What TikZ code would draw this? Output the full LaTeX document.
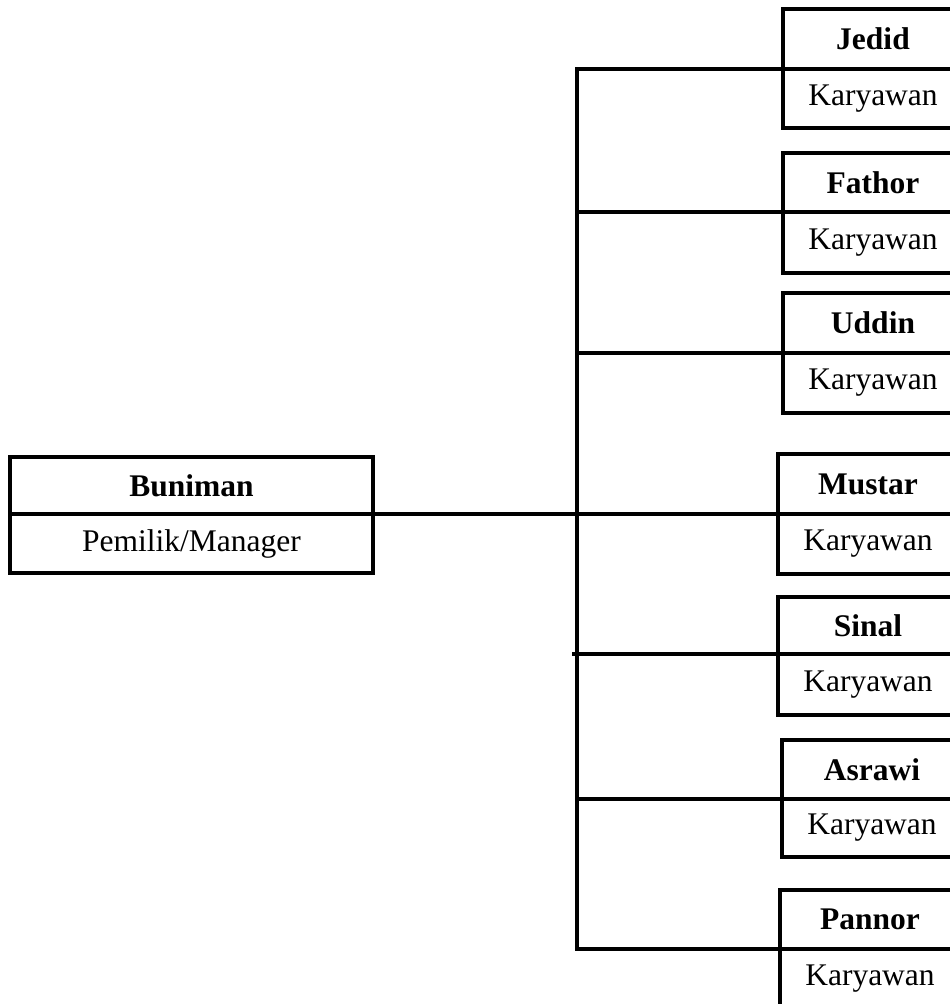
\documentclass[tikz,border=0pt]{standalone}
\usepackage{fontspec}
\setmainfont{Liberation Serif}
\tikzset{
  cell/.style={draw, line width=3.6pt, minimum width=180pt, inner sep=0pt, outer sep=0pt, anchor=north west,
    font=\fontsize{31.5}{36}\selectfont},
  namecell/.style={cell, font=\fontsize{31.5}{36}\selectfont\bfseries},
  link/.style={line width=3.4pt}
}
\begin{document}
\begin{tikzpicture}[x=1pt,y=-1pt]
\useasboundingbox (0,0) rectangle (950,1004);
\clip (0,0) rectangle (950,1004);
% owner
\node[namecell, minimum width=363pt, minimum height=57pt] (buniman) at (10,457) {Buniman};
\node[cell, minimum width=363pt, minimum height=59pt] (bunimanK) at (buniman.south west) {Pemilik/Manager};
% employees
\node[namecell, minimum height=60pt] (jedid) at (783,9) {Jedid};
\node[cell, minimum height=59pt] (jedidK) at (jedid.south west) {Karyawan};
\node[namecell, minimum height=59pt] (fathor) at (783,153) {Fathor};
\node[cell, minimum height=61pt] (fathorK) at (fathor.south west) {Karyawan};
\node[namecell, minimum height=60pt] (uddin) at (783,293) {Uddin};
\node[cell, minimum height=60pt] (uddinK) at (uddin.south west) {Karyawan};
\node[namecell, minimum height=60pt] (mustar) at (778,454) {Mustar};
\node[cell, minimum height=60pt] (mustarK) at (mustar.south west) {Karyawan};
\node[namecell, minimum height=57pt] (sinal) at (778,597) {Sinal};
\node[cell, minimum height=61pt] (sinalK) at (sinal.south west) {Karyawan};
\node[namecell, minimum height=59pt] (asrawi) at (782,740) {Asrawi};
\node[cell, minimum height=58pt] (asrawiK) at (asrawi.south west) {Karyawan};
\node[namecell, minimum height=59pt] (pannor) at (780,890) {Pannor};
\node[cell, minimum height=60pt] (pannorK) at (pannor.south west) {Karyawan};
% connectors
\coordinate (trunk) at (577,0);
\draw[link] (jedid.south west) -| (trunk |- pannor.south west) -- (pannor.south west);
\draw[link] (trunk |- fathor.south west) -- (fathor.south west);
\draw[link] (trunk |- uddin.south west) -- (uddin.south west);
\draw[link] (buniman.south east) -- (mustar.south west);
\draw[link] ([xshift=-5pt]trunk |- sinal.south west) -- (sinal.south west);
\draw[link] (trunk |- asrawi.south west) -- (asrawi.south west);
\end{tikzpicture}
\end{document}
